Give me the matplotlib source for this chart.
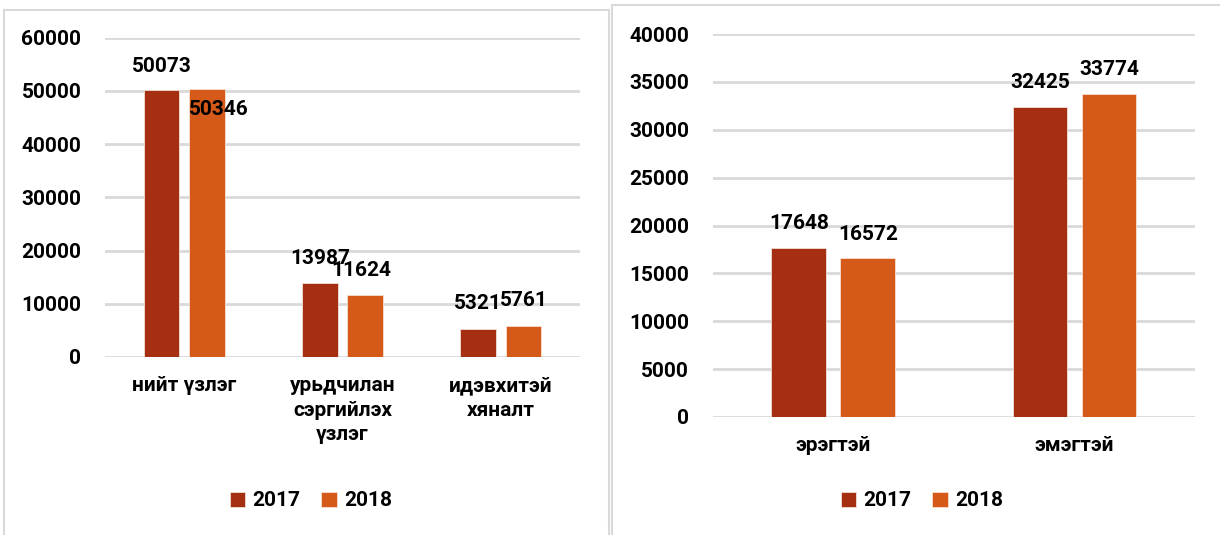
import matplotlib
matplotlib.use("Agg")
import matplotlib.pyplot as plt
from matplotlib.patches import Rectangle
import numpy as np

plt.rcParams['font.family'] = ['Roboto', 'DejaVu Sans']
plt.rcParams['font.weight'] = 'bold'

# data
years = ['2017', '2018']
cats_left = ['нийт үзлэг', 'урьдчилан\nсэргийлэх\nүзлэг', 'идэвхитэй\nхяналт']
left_2017 = [50073, 13987, 5321]
left_2018 = [50346, 11624, 5761]
cats_right = ['эрэгтэй', 'эмэгтэй']
right_2017 = [17648, 32425]
right_2018 = [16572, 33774]

c17 = '#A52F10'
c18 = '#D55A19'
grid_c = '#D9D9D9'
fs = 15

fig = plt.figure(figsize=(12.2, 5.35), dpi=100)
W, H = 1220, 535

# panel frames
fig.patches.append(Rectangle((4 / W, -0.1), 605 / W, 1.1 - 9.5 / H, transform=fig.transFigure,
                             fill=False, edgecolor='#D9D9D9', lw=1.5))
fig.patches.append(Rectangle((612 / W, -0.1), 700 / W, 1.1 - 5 / H, transform=fig.transFigure,
                             fill=False, edgecolor='#D9D9D9', lw=1.5))


def draw(ax, cats, v17, v18, ymax, step, offsets, legend_x):
    x = np.arange(len(cats))
    w = 0.227
    d = 0.143
    b1 = ax.bar(x - d, v17, w, color=c17, edgecolor='#F0E0D8', lw=0.6, zorder=3, label=years[0])
    b2 = ax.bar(x + d, v18, w, color=c18, edgecolor='#F5E0D0', lw=0.6, zorder=3, label=years[1])
    ax.set_xlim(-0.5, len(cats) - 0.5)
    ax.set_ylim(0, ymax)
    ax.set_yticks(np.arange(0, ymax + 1, step))
    ax.yaxis.grid(True, color=grid_c, lw=2)
    ax.set_axisbelow(True)
    for s in ax.spines.values():
        s.set_visible(False)
    ax.tick_params(length=0, labelsize=fs, pad=17)
    ax.tick_params(axis='x', pad=14)
    ax.set_xticks(x)
    ax.set_xticklabels(cats, linespacing=1.35)
    for lab in ax.get_yticklabels() + ax.get_xticklabels():
        lab.set_fontweight('bold')
    k = 0
    for bars, vals in ((b1, v17), (b2, v18)):
        for r, v in zip(bars, vals):
            ox, oy = offsets[k]
            ax.annotate(str(v), (r.get_x() + r.get_width() / 2, v), xytext=(ox, oy),
                        textcoords='offset points', ha='center', va='center',
                        fontsize=fs, fontweight='bold', zorder=5)
            k += 1
    fig.legend(handles=[b1, b2], loc='center', bbox_to_anchor=(legend_x, 1 - 501 / H),
               ncol=2, frameon=False, fontsize=fs, prop={'weight': 'bold', 'size': fs},
               handlelength=0.75, handleheight=0.75, handletextpad=0.35, columnspacing=1.0)


axL = fig.add_axes([105 / W, (H - 357) / H, 475 / W, 319.5 / H])
draw(axL, cats_left, left_2017, left_2018, 60000, 10000,
     [(0, 17.5), (0, 17.5), (0, 18), (9, -15), (-3, 18), (0, 18.5)], 311 / W)

axR = fig.add_axes([712.6 / W, (H - 417) / H, 482.4 / W, 383 / H])
draw(axR, cats_right, right_2017, right_2018, 40000, 5000,
     [(0, 17.5), (0, 17.5), (0, 17.5), (0, 17.5)], 922 / W)

fig.savefig('out.png', dpi=100)
